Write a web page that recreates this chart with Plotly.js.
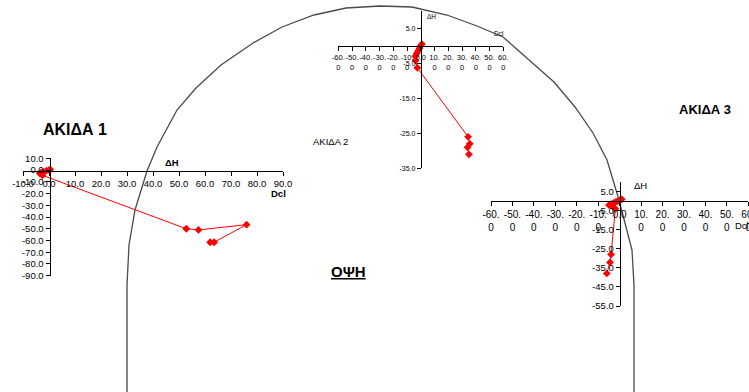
<!DOCTYPE html>
<html><head><meta charset="utf-8">
<script src="https://cdn.plot.ly/plotly-3.0.1.min.js"></script>
<style>html,body{margin:0;padding:0;background:#fff}#chart{width:749px;height:392px}</style>
</head><body><div id="chart"></div><script>
// ---- data ----
// Pin 1 (ΑΚΙΔΑ 1)
const pin1Dcl = [0.5, 0, -1, -2, -3, -3.5, -2.5, 52.8, 57.5, 76.0, 63.5, 62.0];
const pin1DH  = [0.5, 0, -0.5, -1.5, -2, -3, -4.5, -50.0, -51.0, -46.5, -61.5, -61.5];
// Pin 2 (ΑΚΙΔΑ 2)
const pin2Dcl = [0.8, 0, -1, -2, -3, -4, -3.8, -2.5, 34.4, 35.6, 34.0, 35.0];
const pin2DH  = [0.5, 0, -0.8, -1.5, -2.2, -3, -4.2, -6.3, -26.0, -28.0, -29.0, -31.0];
// Pin 3 (ΑΚΙΔΑ 3)
const pin3Dcl = [1, 0, -1, -2, -3, -4, -5, -3, -2, -4.0, -4.5, -6.0];
const pin3DH  = [1, 0.5, 0, -0.5, -1, -1.5, -2, -3, -4, -27.9, -32.1, -37.9];

// tick values / labels
const pin1XTicks = [-10, 0, 10, 20, 30, 40, 50, 60, 70, 80, 90];
const pin1XLabels = ['-10.0','0.0','10.0','20.0','30.0','40.0','50.0','60.0','70.0','80.0','90.0'];
const pin1YTicks = [10, 0, -10, -20, -30, -40, -50, -60, -70, -80, -90];
const pin1YLabels = ['10.0','0.0','-10.0','-20.0','-30.0','-40.0','-50.0','-60.0','-70.0','-80.0','-90.0'];

const wideXTicks = [-60, -50, -40, -30, -20, -10, 0, 10, 20, 30, 40, 50, 60];
const wideXLabels = ['-60.<br>0','-50.<br>0','-40.<br>0','-30.<br>0','-20.<br>0','-10.<br>0','0.0',
                     '10.<br>0','20.<br>0','30.<br>0','40.<br>0','50.<br>0','60.<br>0'];
const pin2YTicks = [5, -5, -15, -25, -35];
const pin2YLabels = ['5.0','-5.0','-15.0','-25.0','-35.0'];
const pin3YTicks = [5, -5, -15, -25, -35, -45, -55];
const pin3YLabels = ['5.0','-5.0','-15.0','-25.0','-35.0','-45.0','-55.0'];

// outline of the arch (view), in page units
const archX = [127,127,129,135,147,157,177,196,221,253,282,314,346,380,412,447,477,503,520,554,575,593,607,619,626,632,634,634];
const archY = [392,285,245,210,171,147,110,88,65,43,27,15,8,6,7,15,26,37,52,82,107,133,160,200,227,250,285,392];

// ---- layout helpers ----
const W = 749, H = 392;
const fx = p => p / W;
const fy = p => 1 - p / H;
const FONT = 'Liberation Sans, Arial, sans-serif';

function xAx(domL, domR, range, posY, vals, labels, size) {
  return {domain:[fx(domL), fx(domR)], range:range, anchor:'free', position:fy(posY),
    showline:true, linecolor:'#000', linewidth:1, showgrid:false, zeroline:false,
    ticks:'outside', ticklen:4, tickwidth:1, tickcolor:'#000', tickangle:0,
    ticklabeloverflow:'allow',
    tickmode:'array', tickvals:vals, ticktext:labels,
    tickfont:{family:FONT, size:size, color:'#000'}, fixedrange:true};
}
function yAx(domB, domT, range, posX, vals, labels, size) {
  return {domain:[fy(domB), fy(domT)], range:range, anchor:'free', position:fx(posX),
    showline:true, linecolor:'#000', linewidth:1, showgrid:false, zeroline:false,
    ticks:'outside', ticklen:4, tickwidth:1, tickcolor:'#000',
    ticklabeloverflow:'allow',
    tickmode:'array', tickvals:vals, ticktext:labels,
    tickfont:{family:FONT, size:size, color:'#000'}, fixedrange:true};
}

const redLine = {color:'#ff0000', width:1};
const redMarker = {symbol:'diamond', size:6, color:'#ff0000', line:{width:0}};

const traces = [
  {x:archX, y:archY, xaxis:'x', yaxis:'y', mode:'lines', line:{color:'#4a4a4a', width:1.3}, hoverinfo:'skip'},
  {x:pin1Dcl, y:pin1DH, xaxis:'x2', yaxis:'y2', mode:'lines+markers', line:redLine, marker:redMarker},
  {x:pin2Dcl, y:pin2DH, xaxis:'x3', yaxis:'y3', mode:'lines+markers', line:redLine, marker:redMarker},
  {x:pin3Dcl, y:pin3DH, xaxis:'x4', yaxis:'y4', mode:'lines+markers', line:redLine, marker:redMarker}
];

function note(text, x, y, size, bold) {
  return {text: bold ? '<b>'+text+'</b>' : text, x:x, y:y, xref:'x', yref:'y', showarrow:false,
    xanchor:'center', yanchor:'middle', font:{family:FONT, size:size, color:'#000'}};
}

const layout = {
  width:W, height:H, margin:{l:0, r:0, t:0, b:0, pad:0},
  paper_bgcolor:'#fff', plot_bgcolor:'rgba(0,0,0,0)', showlegend:false,
  xaxis:{domain:[0,1], range:[0,W], visible:false, fixedrange:true},
  yaxis:{domain:[0,1], range:[H,0], visible:false, fixedrange:true},
  // pin 1
  xaxis2: xAx(23, 283, [-10, 90], 171, pin1XTicks, pin1XLabels, 9.5),
  yaxis2: yAx(275.7, 158.3, [-90, 10], 49.5, pin1YTicks, pin1YLabels, 9.5),
  // pin 2
  xaxis3: xAx(338.3, 503.3, [-60, 60], 45.8, wideXTicks, wideXLabels, 7.5),
  yaxis3: yAx(168.3, 10.8, [-35, 10], 420.8, pin2YTicks, pin2YLabels, 7),
  // pin 3
  xaxis4: xAx(491, 748.3, [-60, 60], 201.2, wideXTicks, wideXLabels, 10),
  yaxis4: yAx(306, 182.2, [-55, 10], 619.65, pin3YTicks, pin3YLabels, 9.5),
  annotations: [
    note('ΑΚΙΔΑ 1', 74.5, 129, 16, true),
    note('ΑΚΙΔΑ 2', 330, 141, 9.5, false),
    note('ΑΚΙΔΑ 3', 705, 109, 13, true),
    note('<u>ΟΨΗ</u>', 348, 271, 15, true),
    note('ΔH', 172, 162, 9.5, true),
    note('Dcl', 278, 193, 9.5, true),
    note('ΔH', 431, 16, 6.5, false),
    note('Dcl', 499, 33.5, 6.5, false),
    note('ΔH', 640, 185, 9.5, false),
    note('Dcl', 742, 225, 9.5, false)
  ]
};

Plotly.newPlot('chart', traces, layout, {staticPlot:true, displayModeBar:false});
</script></body></html>
